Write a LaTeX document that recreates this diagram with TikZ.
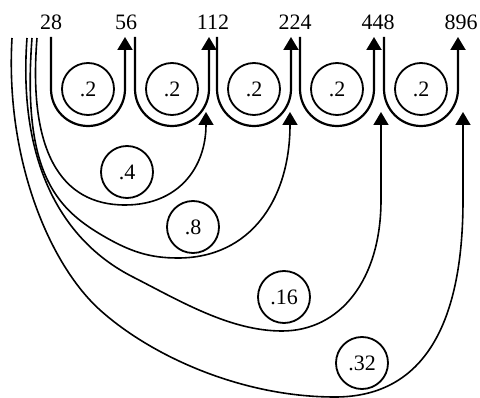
\documentclass[tikz,border=0pt]{standalone}
\usepackage{fontspec}
\setmainfont{Liberation Serif}
\usetikzlibrary{arrows.meta}
\begin{document}
\begin{tikzpicture}[x=1pt,y=1pt,
  num/.style={font=\fontsize{22}{26}\selectfont, anchor=base, inner sep=0pt},
  lbl/.style={draw, circle, line width=1.8pt, minimum size=52pt, inner sep=0pt, font=\fontsize{22}{26}\selectfont},
  tip/.style={-{Triangle[width=15pt,length=13pt]}},
  loopline/.style={tip, line width=2.2pt},
  longline/.style={tip, line width=1.6pt}]
\useasboundingbox (0,0) rectangle (480,-398);
% numbers
\node[num] (n0) at (51,-30) {28};
\node[num] (n1) at (126,-30) {56};
\node[num] (n2) at (213,-30) {112};
\node[num] (n3) at (295,-30) {224};
\node[num] (n4) at (378,-30) {448};
\node[num] (n5) at (461,-30) {896};
% loop ends
\coordinate (o0) at (51,-37);
\coordinate (o1) at (135,-37);
\coordinate (o2) at (217,-37);
\coordinate (o3) at (300,-37);
\coordinate (o4) at (384,-37);
\coordinate (i1) at (125,-37);
\coordinate (i2) at (209,-37);
\coordinate (i3) at (291,-37);
\coordinate (i4) at (374,-37);
\coordinate (i5) at (458,-37);
% loops
\foreach \a/\b in {o0/i1,o1/i2,o2/i3,o3/i4,o4/i5}
  \draw[loopline] (\a) -- ++(0,-52) arc[start angle=180,end angle=360,radius=37] -- (\b);
\node[lbl] (c1) at (88,-89) {.2};
\node[lbl] (c2) at (172,-89) {.2};
\node[lbl] (c3) at (254,-89) {.2};
\node[lbl] (c4) at (337,-89) {.2};
\node[lbl] (c5) at (421,-89) {.2};
% long curves
\coordinate (s4) at (37,-38);
\coordinate (s8) at (32,-38);
\coordinate (s16) at (27,-38);
\coordinate (s32) at (12,-38);
\coordinate (b2) at (206,-112);
\coordinate (b3) at (290,-112);
\coordinate (b4) at (381,-112);
\coordinate (b5) at (463,-112);
\draw[longline] (s4) .. controls (28,-150) and (60,-205) .. (125,-205)
  .. controls (178,-205) and (206,-168) .. (b2);
\draw[longline] (s8) .. controls (22,-170) and (55,-207) .. (100,-234)
  .. controls (130,-252) and (150,-258) .. (178,-258)
  .. controls (250,-258) and (290,-200) .. (b3);
\draw[longline] (s16) .. controls (18,-160) and (60,-240) .. (133,-277)
  .. controls (180,-301) and (230,-331) .. (282,-331)
  .. controls (340,-331) and (381,-280) .. (381,-200) -- (b4);
\draw[longline] (s32) .. controls (5,-160) and (50,-265) .. (100,-310)
  .. controls (150,-355) and (240,-397) .. (335,-397)
  .. controls (420,-397) and (463,-330) .. (463,-200) -- (b5);
\node[lbl] (d4) at (127,-172) {.4};
\node[lbl] (d8) at (193,-227) {.8};
\node[lbl] (d16) at (284,-297) {.16};
\node[lbl] (d32) at (362,-363) {.32};
\end{tikzpicture}
\end{document}
